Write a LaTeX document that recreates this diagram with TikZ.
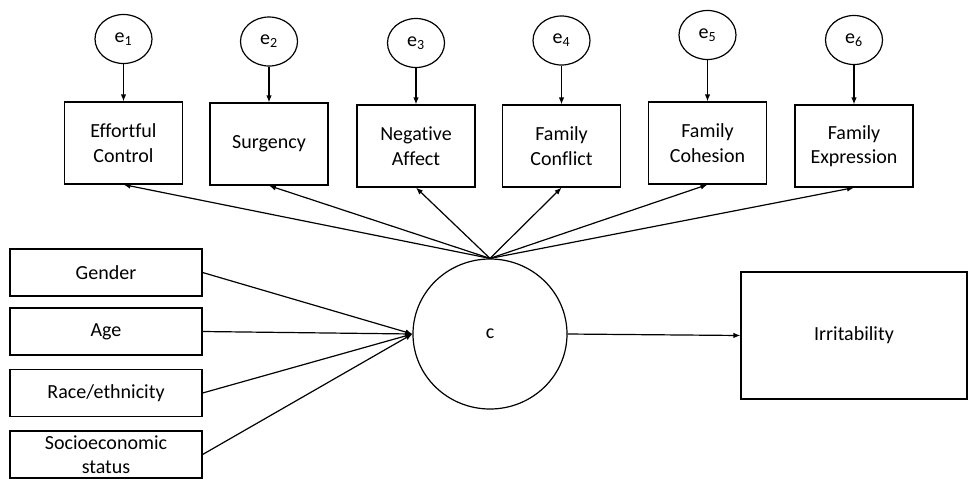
\documentclass[tikz,border=0pt]{standalone}
\usepackage{fontspec}
\setmainfont{Carlito}[Ligatures=NoCommon]
\usetikzlibrary{shapes.geometric,arrows.meta}
\begin{document}
\begin{tikzpicture}[x=1pt,y=-1pt,
  every node/.style={font=\fontsize{20}{24.5}\selectfont, text=black},
  obsbox/.style={draw, line width=1.2pt, rectangle, inner sep=0pt, align=center, minimum width=118pt, minimum height=82pt},
  inbox/.style={draw, line width=1.2pt, rectangle, inner sep=0pt, align=center, minimum width=192pt, minimum height=47pt},
  errc/.style={draw, line width=1.2pt, ellipse, inner sep=0pt, minimum width=57pt, minimum height=49pt},
  conn/.style={line width=1.2pt, -{Latex[length=7pt,width=5.5pt]}}
]
\useasboundingbox (0,0) rectangle (968,480);
% top indicator boxes
\node[obsbox] (ec) at (123.5,143) {Effortful\\Control};
\node[obsbox] (sg) at (269,144) {Surgency};
\node[obsbox] (na) at (416,146) {Negative\\Affect};
\node[obsbox] (fc) at (561.5,146) {Family\\Conflict};
\node[obsbox] (fh) at (707.5,143) {Family\\Cohesion};
\node[obsbox] (fe) at (854,146) {Family\\Expression};
% error terms
\node[errc] (e1) at (123.5,39) {e\textsubscript{1}};
\node[errc] (e2) at (269,41.5) {e\textsubscript{2}};
\node[errc] (e3) at (416,43) {e\textsubscript{3}};
\node[errc] (e4) at (561.5,40.5) {e\textsubscript{4}};
\node[errc] (e5) at (707.5,35) {e\textsubscript{5}};
\node[errc] (e6) at (854,40) {e\textsubscript{6}};
% covariates
\node[inbox] (gen) at (106,272.5) {Gender};
\node[inbox] (age) at (106,331.5) {Age};
\node[inbox] (race) at (106,393) {Race/ethnicity};
\node[inbox] (ses) at (106,454.5) {Socioeconomic\\status};
% latent and outcome
\node[draw, line width=1.2pt, ellipse, inner sep=0pt, minimum width=154pt, minimum height=150pt] (c) at (490,334) {c};
\node[draw, line width=1.2pt, rectangle, inner sep=0pt, minimum width=226pt, minimum height=127pt] (irr) at (854,335.5) {Irritability};
% connectors
\foreach \e/\b in {e1/ec,e2/sg,e3/na,e4/fc,e5/fh,e6/fe}{
  \draw[conn] (\e.south) -- (\b.north);
  \draw[conn] (c.north) -- (\b.south);
}
\foreach \b in {gen,age,race,ses}{
  \draw[conn] (\b.east) -- (c.west);
}
\draw[conn] (c.east) -- (irr.west);
\end{tikzpicture}
\end{document}
